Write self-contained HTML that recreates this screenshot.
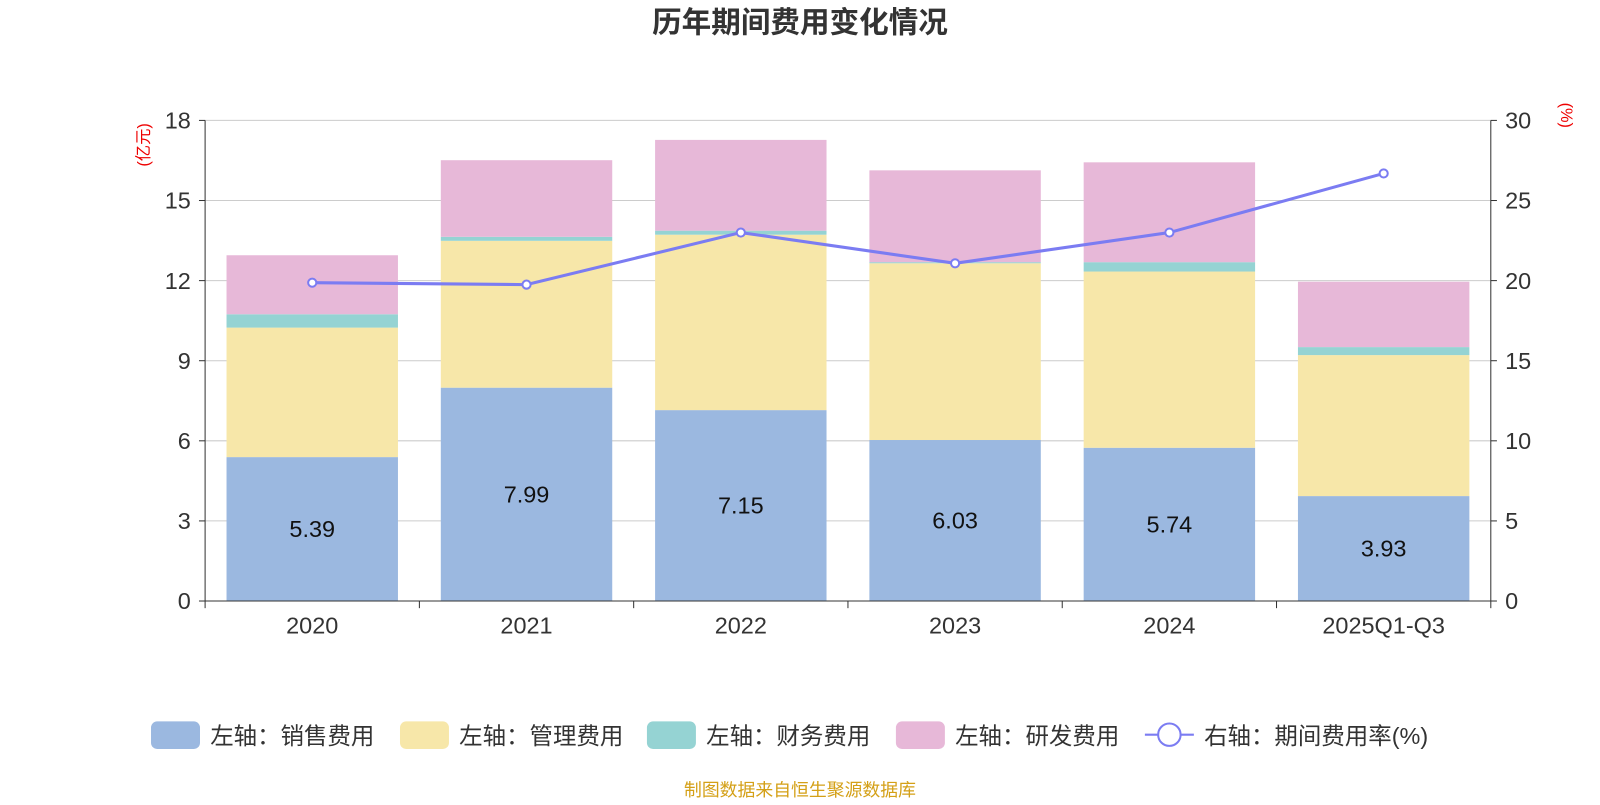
<!DOCTYPE html>
<html><head><meta charset="utf-8">
<style>
body{margin:0;background:#fff;font-family:"Liberation Sans","Noto Sans CJK SC",sans-serif;}
svg text{font-family:"Liberation Sans","Noto Sans CJK SC",sans-serif;}
</style></head>
<body>
<svg id="chart" width="1600" height="800" xmlns="http://www.w3.org/2000/svg">
<g transform="scale(1.0204)">
<text x="784" y="32" text-anchor="middle" font-size="29" font-weight="bold" fill="#333">历年期间费用变化情况</text>
<text transform="translate(146,142) rotate(-90)" text-anchor="middle" font-size="16" fill="#e00">(亿元)</text>
<text transform="translate(1530,113) rotate(90)" text-anchor="middle" font-size="16" fill="#e00">(%)</text>
<g id="grid"></g><g id="bars"></g><g id="axes"></g><g id="line"></g>
<g id="legend"></g>
<text x="784" y="780" text-anchor="middle" font-size="17.5" fill="#d4a017">制图数据来自恒生聚源数据库</text>
</g>
</svg>
<script>
const categories=["2020","2021","2022","2023","2024","2025Q1-Q3"];
const sales=[5.39,7.99,7.15,6.03,5.74,3.93];
const admin=[4.85,5.50,6.57,6.62,6.60,5.28];
const finance=[0.50,0.15,0.15,0.04,0.35,0.30];
const rd=[2.21,2.87,3.40,3.44,3.74,2.45];
const rate=[19.87,19.75,23.0,21.08,23.0,26.69];
const leftTicks=[0,3,6,9,12,15,18];
const rightTicks=[0,5,10,15,20,25,30];
const NS="http://www.w3.org/2000/svg";
const X0=201,X1=1461,Y0=589,Y1=118;
const band=(X1-X0)/categories.length;
const yL=v=>Y0-(v/18)*(Y0-Y1);
const yR=v=>Y0-(v/30)*(Y0-Y1);
const xC=i=>X0+band*(i+0.5);
function mk(tag,attrs,parent,text){const e=document.createElementNS(NS,tag);for(const k in attrs)e.setAttribute(k,attrs[k]);if(text!==undefined)e.textContent=text;document.getElementById(parent).appendChild(e);return e;}
leftTicks.forEach((t,i)=>{
 const y=yL(t);
 if(t>0){const g=mk('line',{x1:X0,x2:X1,y1:y,y2:y,stroke:'#ccc','stroke-width':1},'grid');
 
 }
 const l=mk('text',{x:X0-14,y:y+8,'text-anchor':'end','font-size':23,fill:'#333'},'axes',t);
 
 
 mk('line',{x1:X0-6,x2:X0,y1:y,y2:y,stroke:'#333'},'axes');
});
rightTicks.forEach(t=>{
 const y=yR(t);
 const l=mk('text',{x:X1+14,y:y+8,'font-size':23,fill:'#333'},'axes',t);
 
 
 mk('line',{x1:X1,x2:X1+6,y1:y,y2:y,stroke:'#333'},'axes');
});
mk('line',{x1:X0,x2:X0,y1:Y1,y2:Y0,stroke:'#333'},'axes');
mk('line',{x1:X1,x2:X1,y1:Y1,y2:Y0,stroke:'#333'},'axes');
mk('line',{x1:X0,x2:X1,y1:Y0,y2:Y0,stroke:'#333'},'axes');
for(let i=0;i<=categories.length;i++){mk('line',{x1:X0+band*i,x2:X0+band*i,y1:Y0,y2:Y0+7,stroke:'#333'},'axes');}
const series=[[sales,'#9bb8e0','bar-sales'],[admin,'#f7e7a9','bar-admin'],[finance,'#95d3d3','bar-finance'],[rd,'#e7b8d8','bar-rd']];
const bw=168;
categories.forEach((c,i)=>{
 let base=0;
 series.forEach(([arr,col,name])=>{
  const r=mk('rect',{x:xC(i)-bw/2,y:yL(base+arr[i]),width:bw,height:yL(base)-yL(base+arr[i]),fill:col},'bars');
  
  
  base+=arr[i];
 });
 const v=mk('text',{x:xC(i),y:(yL(0)+yL(sales[i]))/2+8,'text-anchor':'middle','font-size':23,fill:'#111'},'bars',sales[i].toFixed(2));
 
 
 const cl=mk('text',{x:xC(i),y:621,'text-anchor':'middle','font-size':23,fill:'#333'},'axes',c);
 
 
});
const pts=rate.map((r,i)=>xC(i)+','+yR(r)).join(' ');
const pl=mk('polyline',{points:pts,fill:'none',stroke:'#7b7cf2','stroke-width':3},'line');


rate.forEach((r,i)=>{
 const p=mk('circle',{cx:xC(i),cy:yR(r),r:4,fill:'#fff',stroke:'#7b7cf2','stroke-width':2},'line');
 
 
});
const leg=[['#9bb8e0','左轴：销售费用',148],['#f7e7a9','左轴：管理费用',392],['#95d3d3','左轴：财务费用',634],['#e7b8d8','左轴：研发费用',878]];
leg.forEach(([col,t,x])=>{
 const r=mk('rect',{x:x,y:707,width:48,height:27,rx:6,fill:col},'legend');
 
 
 const tx=mk('text',{x:x+58,y:729,'font-size':23,fill:'#333'},'legend',t);
 
 
});
mk('line',{x1:1122,x2:1170,y1:720,y2:720,stroke:'#7b7cf2','stroke-width':2},'legend');
mk('circle',{cx:1146,cy:720,r:11,fill:'#fff',stroke:'#7b7cf2','stroke-width':2},'legend');
const lt=mk('text',{x:1180,y:729,'font-size':23,fill:'#333'},'legend','右轴：期间费用率(%)');


</script>
</body></html>
